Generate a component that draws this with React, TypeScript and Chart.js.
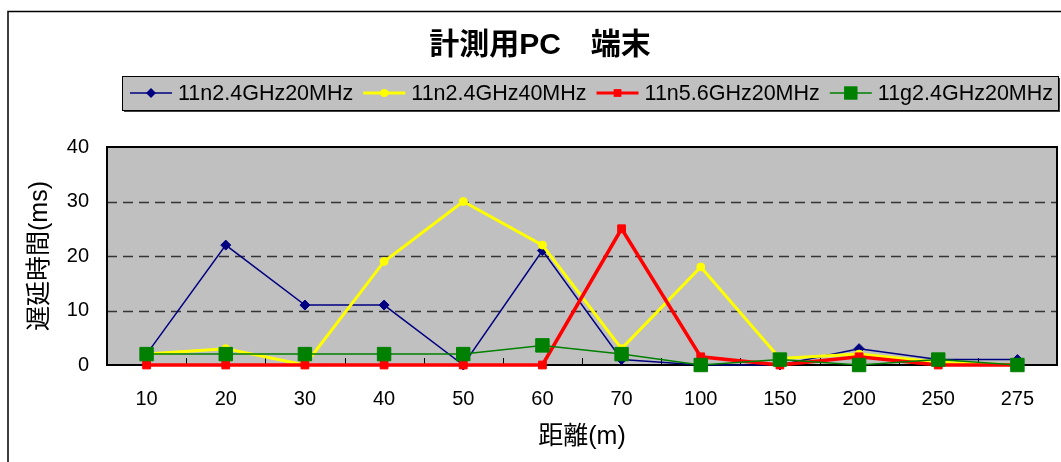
import React, { useEffect, useRef } from 'react';
import { Chart, registerables } from 'chart.js';

Chart.register(...registerables);

const TITLE = '計測用PC　端末';
const X_TITLE = '距離(m)';
const Y_TITLE = '遅延時間(ms)';

const distances = ['10', '20', '30', '40', '50', '60', '70', '100', '150', '200', '250', '275'];
const seriesNames = ['11n2.4GHz20MHz', '11n2.4GHz40MHz', '11n5.6GHz20MHz', '11g2.4GHz20MHz'];
const n24g20 = [2, 22, 11, 11, 0, 21, 1, 0, 0, 3, 1, 1];
const n24g40 = [2, 3, 0, 19, 30, 22, 3, 18, 1.2, 2, 0.5, 0];
const n56g20 = [0, 0, 0, 0, 0, 0, 25, 1.5, 0, 1.5, 0, 0];
const g24g20 = [2, 2, 2, 2, 2, 3.6, 2, 0, 1, 0, 1, 0];
const yTicks = [0, 10, 20, 30, 40];
const gridValues = [10, 20, 30];

const FONT = '"Liberation Sans", Arial, "Noto Sans CJK JP", sans-serif';

type Sty = { color: string; width: number; point: string; radius: number; legendWidth: number };
const styles: Sty[] = [
  { color: '#000080', width: 1.5, point: 'rectRot', radius: 5, legendWidth: 1.5 },
  { color: '#FFFF00', width: 3, point: 'circle', radius: 4, legendWidth: 3 },
  { color: '#FF0000', width: 3.5, point: 'rect', radius: 5.5, legendWidth: 3 },
  { color: '#008000', width: 1.5, point: 'rect', radius: 9.5, legendWidth: 1.5 },
];

function drawMarker(ctx: CanvasRenderingContext2D, kind: string, x: number, y: number, r: number, color: string) {
  ctx.fillStyle = color;
  ctx.beginPath();
  if (kind === 'circle') {
    ctx.arc(x, y, r, 0, Math.PI * 2);
  } else if (kind === 'rectRot') {
    ctx.moveTo(x - r, y);
    ctx.lineTo(x, y - r);
    ctx.lineTo(x + r, y);
    ctx.lineTo(x, y + r);
    ctx.closePath();
  } else {
    const s = Math.SQRT1_2 * r;
    ctx.rect(x - s, y - s, 2 * s, 2 * s);
  }
  ctx.fill();
}

const decorPlugin = {
  id: 'decor',
  beforeDraw(chart: any) {
    const ctx: CanvasRenderingContext2D = chart.ctx;
    const a = chart.chartArea;
    const xs = chart.scales.x;
    const ys = chart.scales.y;
    ctx.save();
    ctx.fillStyle = '#ffffff';
    ctx.fillRect(0, 0, chart.width, chart.height);

    // outer frame
    ctx.strokeStyle = '#000';
    ctx.lineWidth = 1.5;
    ctx.strokeRect(8, 11.5, 3000, 3000);

    // title
    ctx.fillStyle = '#000';
    ctx.font = `bold 30px ${FONT}`;
    ctx.textAlign = 'center';
    ctx.textBaseline = 'middle';
    ctx.fillText(TITLE, 540, 46);

    // legend box
    const lx = 122, ly = 76, lw = 936, lh = 34;
    ctx.fillStyle = '#404040';
    ctx.fillRect(lx + 2, ly + 2, lw, lh);
    ctx.fillStyle = '#c0c0c0';
    ctx.fillRect(lx, ly, lw, lh);
    ctx.strokeStyle = '#000';
    ctx.lineWidth = 1;
    ctx.strokeRect(lx + 0.5, ly + 0.5, lw, lh);
    ctx.font = `21.5px ${FONT}`;
    ctx.textAlign = 'left';
    ctx.textBaseline = 'middle';
    let x = 130;
    const cy = ly + lh / 2;
    seriesNames.forEach((name, i) => {
      const st = styles[i];
      ctx.strokeStyle = st.color;
      ctx.lineWidth = st.legendWidth;
      ctx.beginPath();
      ctx.moveTo(x, cy);
      ctx.lineTo(x + 42, cy);
      ctx.stroke();
      drawMarker(ctx, st.point, x + 21, cy, st.radius, st.color);
      ctx.fillStyle = '#000';
      ctx.fillText(name, x + 48, cy + 1);
      x += 48 + ctx.measureText(name).width + 10;
    });

    // plot area
    ctx.fillStyle = '#c0c0c0';
    ctx.fillRect(a.left, a.top, a.right - a.left, a.bottom - a.top);
    ctx.strokeStyle = '#333333';
    ctx.lineWidth = 1.3;
    ctx.setLineDash([10, 6]);
    gridValues.forEach((v) => {
      const py = Math.round(ys.getPixelForValue(v)) + 0.5;
      ctx.beginPath();
      ctx.moveTo(a.left, py);
      ctx.lineTo(a.right, py);
      ctx.stroke();
    });
    ctx.setLineDash([]);
    ctx.strokeStyle = '#000';
    ctx.lineWidth = 2;
    ctx.strokeRect(a.left, a.top, a.right - a.left, a.bottom - a.top);
    ctx.lineWidth = 1;
    for (let i = 0; i < distances.length - 1; i++) {
      const bx = Math.round((xs.getPixelForValue(i) + xs.getPixelForValue(i + 1)) / 2) + 0.5;
      ctx.beginPath();
      ctx.moveTo(bx, a.bottom);
      ctx.lineTo(bx, a.bottom - 7);
      ctx.stroke();
    }

    // axis titles
    ctx.fillStyle = '#000';
    ctx.font = `25px ${FONT}`;
    ctx.textAlign = 'center';
    ctx.textBaseline = 'middle';
    ctx.fillText(X_TITLE, (a.left + a.right) / 2, 437);
    ctx.save();
    ctx.translate(40, (a.top + a.bottom) / 2);
    ctx.rotate(-Math.PI / 2);
    ctx.fillText(Y_TITLE, 0, 0);
    ctx.restore();

    ctx.restore();
  },
};

export default function App() {
  const ref = useRef<HTMLCanvasElement | null>(null);
  useEffect(() => {
    if (!ref.current) return;
    const allData = [n24g20, n24g40, n56g20, g24g20];
    const chart = new Chart(ref.current, {
      type: 'line',
      data: {
        labels: distances,
        datasets: allData.map((d, i) => ({
          label: seriesNames[i],
          data: d,
          borderColor: styles[i].color,
          backgroundColor: styles[i].color,
          pointBackgroundColor: styles[i].color,
          pointBorderColor: styles[i].color,
          borderWidth: styles[i].width,
          pointStyle: styles[i].point as any,
          pointRadius: styles[i].radius,
          pointHoverRadius: styles[i].radius,
          pointBorderWidth: 1,
          tension: 0,
          fill: false,
          clip: false as any,
          order: 4 - i,
        })),
      },
      options: {
        responsive: false,
        devicePixelRatio: 1,
        animation: false,
        events: [],
        layout: { autoPadding: false, padding: { left: 0, top: 147, right: 4, bottom: 0 } },
        plugins: {
          legend: { display: false },
          title: { display: false },
          tooltip: { enabled: false },
        },
        scales: {
          x: {
            type: 'category',
            offset: true,
            grid: { display: false },
            border: { display: false },
            ticks: {
              color: '#000',
              font: { family: FONT, size: 20 },
              padding: 14,
              maxRotation: 0,
              autoSkip: false,
            },
            afterFit: (s: any) => {
              s.height = 97;
              s.paddingLeft = 0;
              s.paddingRight = 0;
            },
          },
          y: {
            min: 0,
            max: 40,
            grid: { display: false },
            border: { display: false },
            afterBuildTicks: (s: any) => { s.ticks = yTicks.map((v) => ({ value: v })); },
            ticks: {
              color: '#000',
              font: { family: FONT, size: 20 },
              padding: 10,
            },
            afterFit: (s: any) => {
              s.width = 107;
              s.paddingTop = 0;
              s.paddingBottom = 0;
            },
          },
        },
      },
      plugins: [decorPlugin],
    });
    return () => chart.destroy();
  }, []);
  return (
    <div style={{ position: 'absolute', left: 0, top: 0, width: 1061, height: 462, background: '#fff' }}>
      <canvas ref={ref} width={1061} height={462} style={{ width: 1061, height: 462, display: 'block' }} />
    </div>
  );
}
